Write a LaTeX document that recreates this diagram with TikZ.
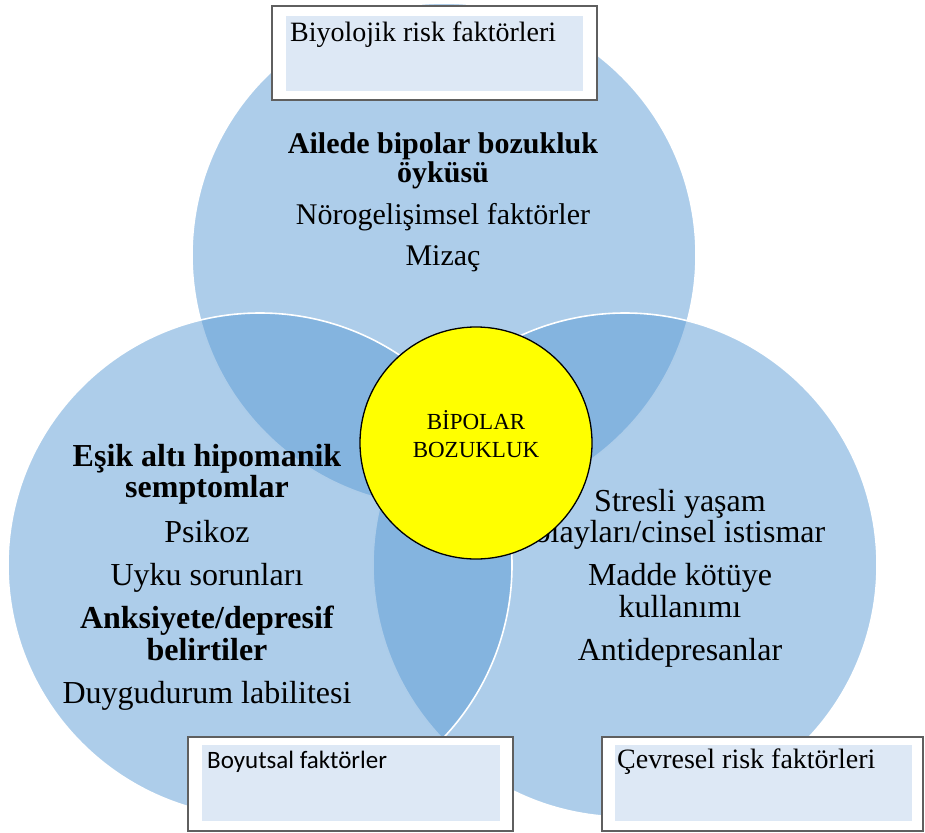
\documentclass[tikz,border=0pt]{standalone}
\usepackage{fontspec}
\setmainfont{Liberation Serif}
\newfontfamily\tagsans{Carlito}
\usetikzlibrary{positioning}
\definecolor{vennblue}{RGB}{91,155,213}
\definecolor{tagblue}{RGB}{221,232,245}
\definecolor{framegray}{RGB}{95,95,95}
\definecolor{coreyellow}{RGB}{255,255,0}

\begin{document}
\begin{tikzpicture}[
  x=1pt, y=-1pt,
  venn/.style={circle,fill=vennblue,fill opacity=0.5,draw=white,line width=1.6pt,
               minimum size=504pt,inner sep=0pt},
  core/.style={circle,fill=coreyellow,draw=black,line width=1.3pt,
               minimum size=232pt,inner sep=0pt},
  factors/.style={align=center,inner sep=0pt,anchor=north,
                  font=\fontsize{32}{31.5}\selectfont},
  tagframe/.style={draw=framegray,fill=white,line width=1.2pt,
                   minimum height=94pt,inner sep=0pt},
  tagfill/.style={fill=tagblue,minimum height=76pt,inner sep=0pt},
  tagtext/.style={anchor=base west,inner sep=0pt,font=\fontsize{28}{30}\selectfont}
]
\useasboundingbox (0,0) rectangle (925,832);

% three risk circles
\node[venn] (bioCircle) at (444,255) {};
\node[venn] (envCircle) at (625,565) {};
\node[venn] (dimCircle) at (260,565) {};

\node[factors,font=\fontsize{30}{29}\selectfont] (bioText) at (443,132)
  {\textbf{Ailede bipolar bozukluk}\\\textbf{öyküsü}\\[13pt]
   Nörogelişimsel faktörler\\[12.5pt]Mizaç};
\node[factors] (dimText) at (207,444)
  {\textbf{Eşik altı hipomanik}\\\textbf{semptomlar}\\[13.5pt]
   Psikoz\\[11.5pt]Uyku sorunları\\[11.5pt]
   \textbf{Anksiyete/depresif}\\\textbf{belirtiler}\\[11.5pt]
   Duygudurum labilitesi};
\node[factors] (envText) at (680,489)
  {Stresli yaşam\\olayları/cinsel istismar\\[11.5pt]
   Madde kötüye\\kullanımı\\[11.5pt]Antidepresanlar};

% centre
\node[core] (bipolar) at (476,443) {};
\node[align=center,inner sep=0pt,font=\fontsize{23}{28}\selectfont]
  (bipolarText) at ([yshift=8.5pt]bipolar.center) {BİPOLAR\\BOZUKLUK};

% labels
\node[tagframe,minimum width=325pt] (bioFrame) at (434.5,53) {};
\node[tagfill,minimum width=297pt,minimum height=75pt] (bioFill) at (434.5,53.5) {};
\node[tagtext] (bioTag) at (290,42) {Biyolojik risk faktörleri};

\node[tagframe,minimum width=325pt] (dimFrame) at (350.5,784) {};
\node[tagfill,minimum width=298pt] (dimFill) at (351,783) {};
\node[tagtext,font=\tagsans\fontsize{25}{28}\selectfont] (dimTag) at (207,768) {Boyutsal faktörler};

\node[tagframe,minimum width=321pt] (envFrame) at (762.5,784) {};
\node[tagfill,minimum width=297pt] (envFill) at (763.5,783) {};
\node[tagtext] (envTag) at (617,768) {Çevresel risk faktörleri};
\end{tikzpicture}
\end{document}
